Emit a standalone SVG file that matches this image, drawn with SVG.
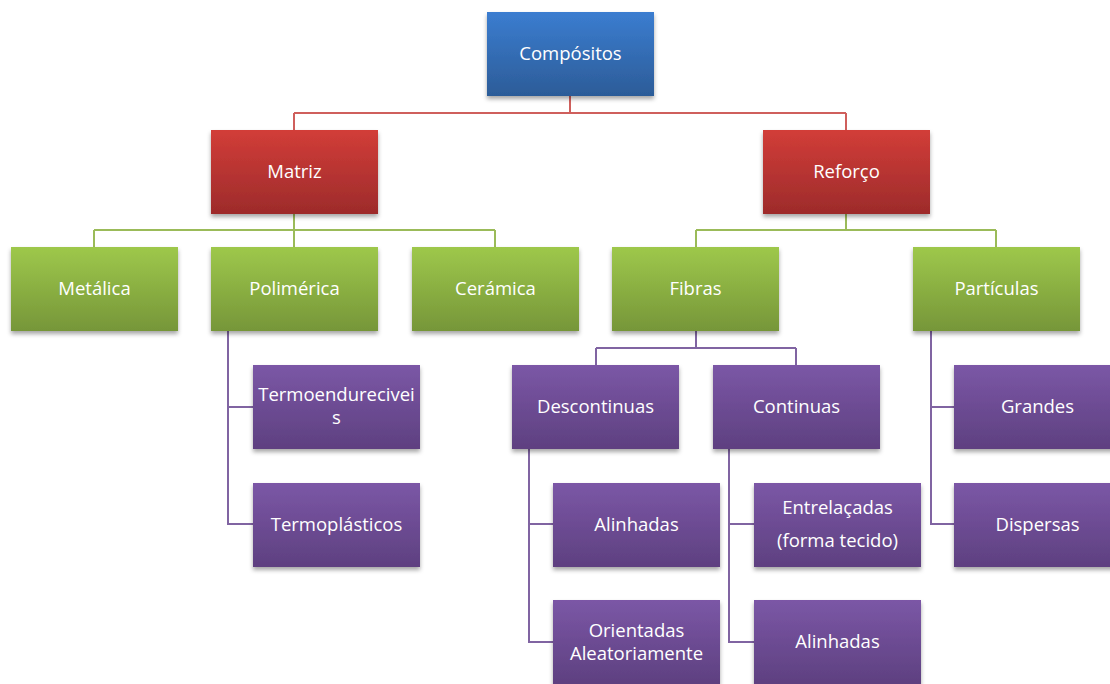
<svg xmlns="http://www.w3.org/2000/svg" width="1110" height="684" viewBox="0 0 1110 684">
<defs>
<linearGradient id="gBlue" x1="0" y1="0" x2="0" y2="1"><stop offset="0" stop-color="#3b7dd0"/><stop offset="1" stop-color="#2c5c98"/></linearGradient>
<linearGradient id="gRed" x1="0" y1="0" x2="0" y2="1"><stop offset="0" stop-color="#d23d38"/><stop offset="1" stop-color="#9d2b2b"/></linearGradient>
<linearGradient id="gGreen" x1="0" y1="0" x2="0" y2="1"><stop offset="0" stop-color="#9ec84b"/><stop offset="1" stop-color="#769639"/></linearGradient>
<linearGradient id="gPurple" x1="0" y1="0" x2="0" y2="1"><stop offset="0" stop-color="#7b57a6"/><stop offset="1" stop-color="#5e4080"/></linearGradient>
<filter id="sh" x="-10%" y="-10%" width="120%" height="130%"><feDropShadow dx="0" dy="3" stdDeviation="2" flood-color="#000" flood-opacity="0.35"/></filter>
</defs>
<style>
rect.b{filter:url(#sh);}
.blue{fill:url(#gBlue);}
.red{fill:url(#gRed);}
.green{fill:url(#gGreen);}
.purple{fill:url(#gPurple);}
text{font-family:"Open Sans","Noto Sans",sans-serif;font-size:18.5px;fill:#ffffff;text-anchor:middle;}
.c path{fill:none;stroke-width:2;}
.cr{stroke:#cf5f5c;}
.cg{stroke:#9bbb59;}
.cp{stroke:#8064a2;}
</style>
<g class="c" id="connectors">
<path class="cr" d="M570,96V113M294,113H846M294,113V130M846,113V130"/>
<path class="cg" d="M294,214V230M94,230H495M94,230V247M294,230V247M495,230V247"/>
<path class="cg" d="M846,214V230M696,230H996M696,230V247M996,230V247"/>
<path class="cp" d="M228,331V524H253M228,407H253"/>
<path class="cp" d="M696,331V348M596,348H796M596,348V365M796,348V365"/>
<path class="cp" d="M529,449V642H553M529,524H553"/>
<path class="cp" d="M729,449V642H754M729,524H754"/>
<path class="cp" d="M931,331V524H954M931,407H954"/>
</g>
<g id="n-compositos"><rect class="b blue" x="487" y="12" width="167" height="84"/><text x="570.5" y="60">Compósitos</text></g>
<g id="n-matriz"><rect class="b red" x="211" y="130" width="167" height="84"/><text x="294.5" y="178">Matriz</text></g>
<g id="n-reforco"><rect class="b red" x="763" y="130" width="167" height="84"/><text x="846.5" y="178">Reforço</text></g>
<g id="n-metalica"><rect class="b green" x="11" y="247" width="167" height="84"/><text x="94.5" y="295">Metálica</text></g>
<g id="n-polimerica"><rect class="b green" x="211" y="247" width="167" height="84"/><text x="294.5" y="295">Polimérica</text></g>
<g id="n-ceramica"><rect class="b green" x="412" y="247" width="167" height="84"/><text x="495.5" y="295">Cerámica</text></g>
<g id="n-fibras"><rect class="b green" x="612" y="247" width="167" height="84"/><text x="695.5" y="295">Fibras</text></g>
<g id="n-particulas"><rect class="b green" x="913" y="247" width="167" height="84"/><text x="996.5" y="295">Partículas</text></g>
<g id="n-termoendureciveis"><rect class="b purple" x="253" y="365" width="167" height="84"/><text x="336.5" y="400.5">Termoendurecivei</text><text x="336.5" y="423.5">s</text></g>
<g id="n-termoplasticos"><rect class="b purple" x="253" y="483" width="167" height="84"/><text x="336.5" y="531">Termoplásticos</text></g>
<g id="n-descontinuas"><rect class="b purple" x="512" y="365" width="167" height="84"/><text x="595.5" y="413">Descontinuas</text></g>
<g id="n-continuas"><rect class="b purple" x="713" y="365" width="167" height="84"/><text x="796.5" y="413">Continuas</text></g>
<g id="n-alinhadas1"><rect class="b purple" x="553" y="483" width="167" height="84"/><text x="636.5" y="531">Alinhadas</text></g>
<g id="n-orientadas"><rect class="b purple" x="553" y="600" width="167" height="84"/><text x="636.5" y="636.5">Orientadas</text><text x="636.5" y="659.5">Aleatoriamente</text></g>
<g id="n-entrelacadas"><rect class="b purple" x="754" y="483" width="167" height="84"/><text x="837.5" y="513.5">Entrelaçadas</text><text x="837.5" y="546.5">(forma tecido)</text></g>
<g id="n-alinhadas2"><rect class="b purple" x="754" y="600" width="167" height="84"/><text x="837.5" y="648">Alinhadas</text></g>
<g id="n-grandes"><rect class="b purple" x="954" y="365" width="167" height="84"/><text x="1037.5" y="413">Grandes</text></g>
<g id="n-dispersas"><rect class="b purple" x="954" y="483" width="167" height="84"/><text x="1037.5" y="531">Dispersas</text></g>
</svg>
